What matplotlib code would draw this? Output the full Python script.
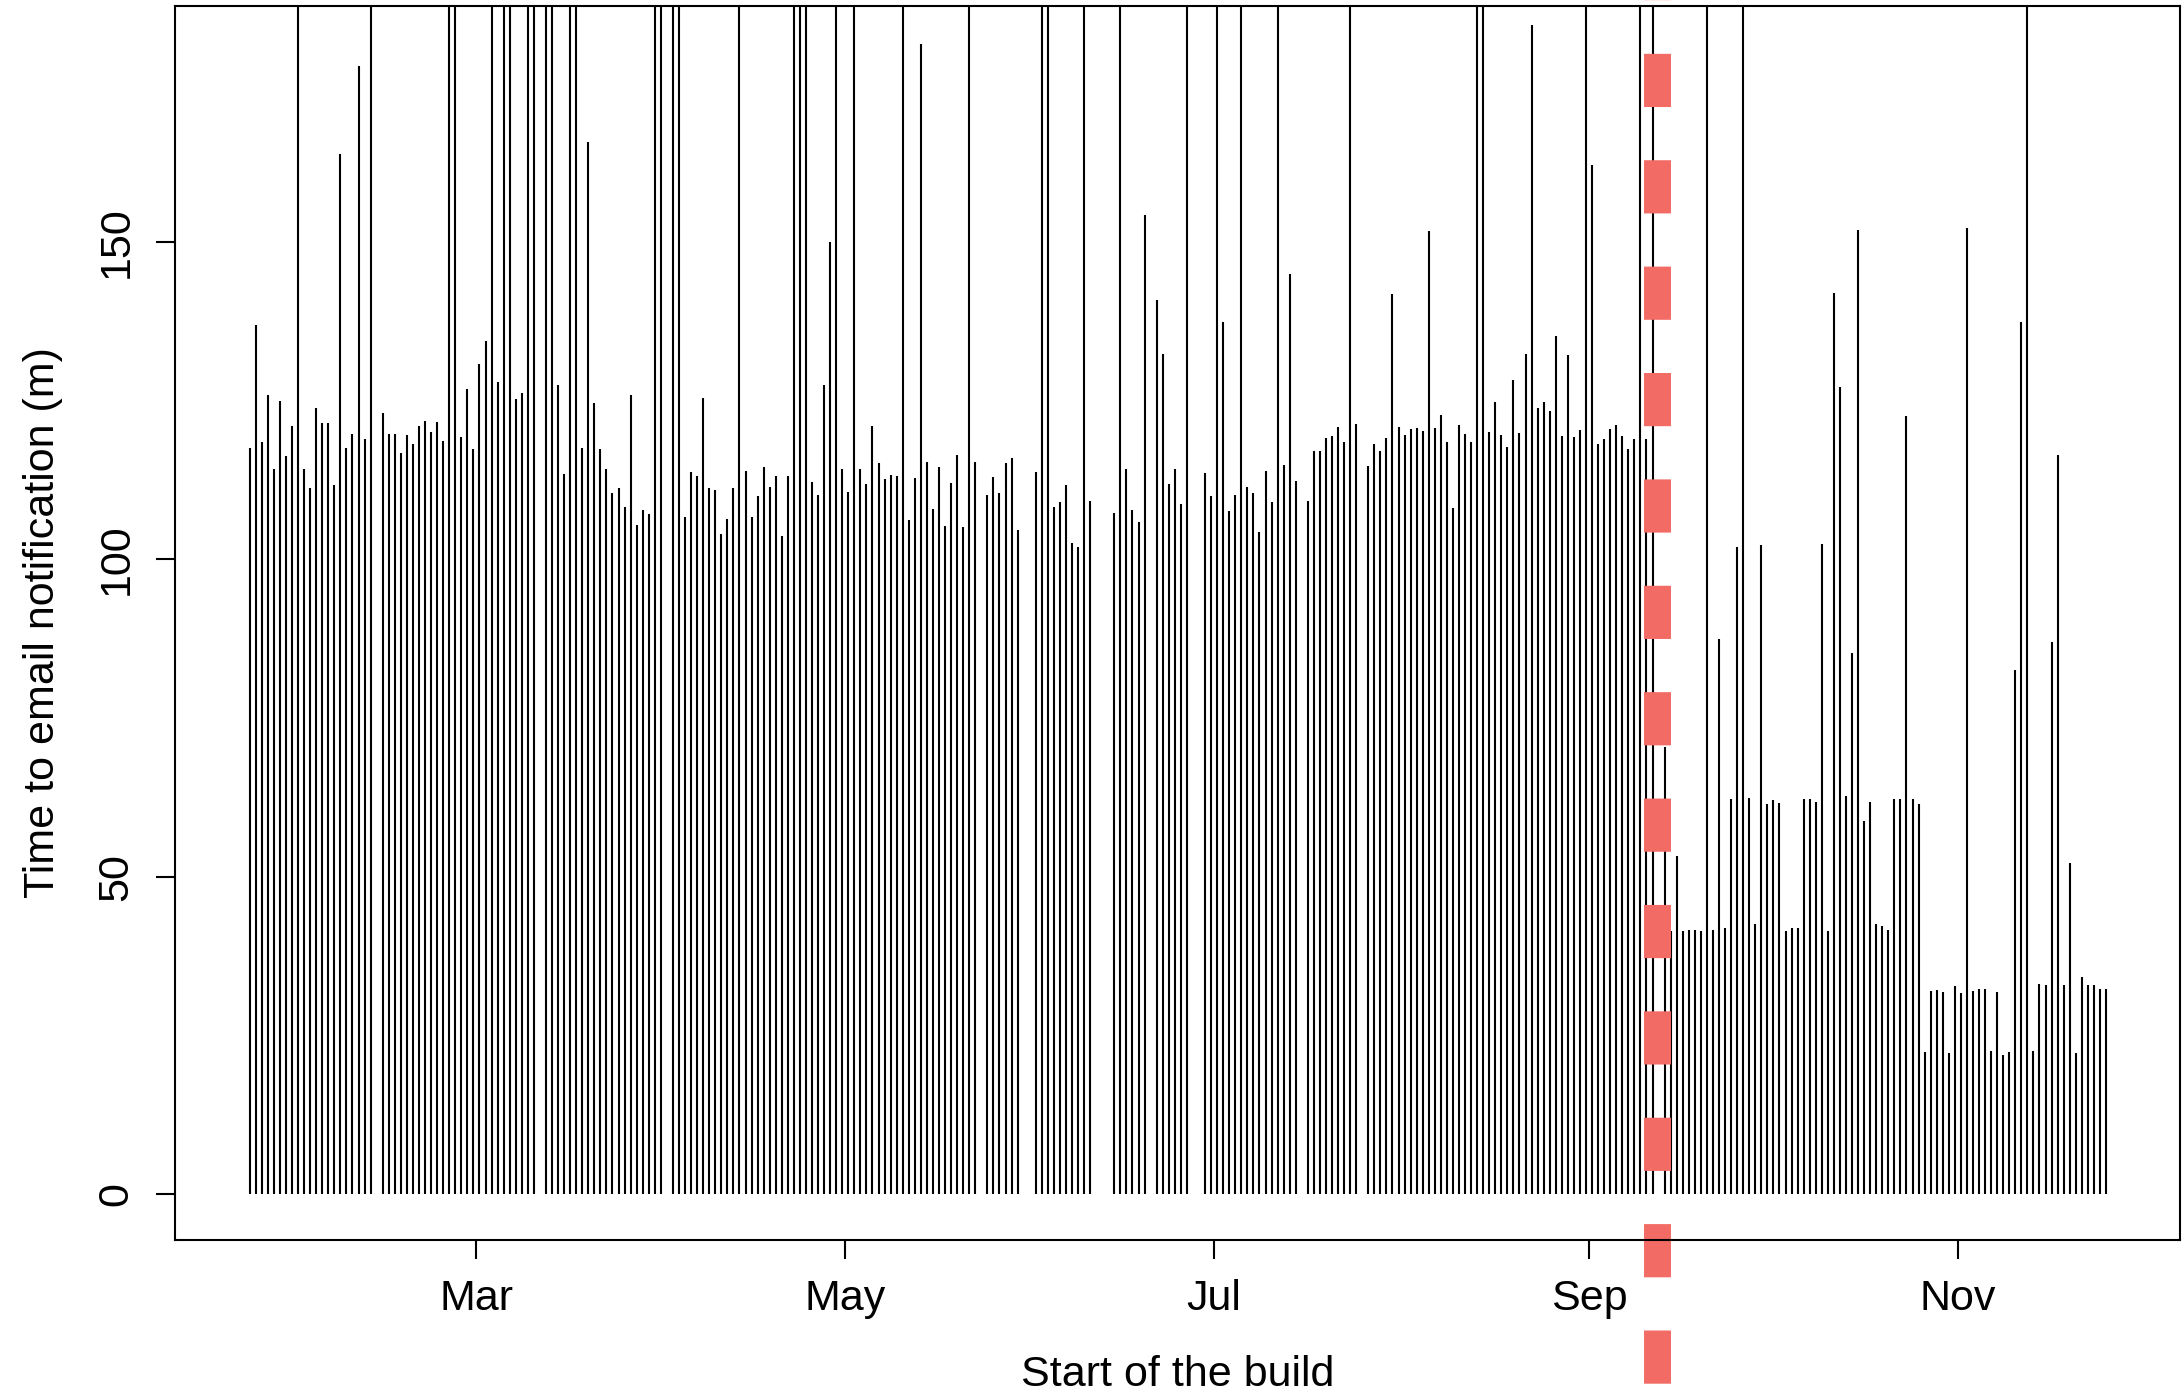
import numpy as np
import pandas as pd
import matplotlib
matplotlib.use("Agg")
import matplotlib.pyplot as plt
import matplotlib.dates as mdates
import matplotlib.transforms as mtransforms

C = 200     # build ran past the top of the plot (clipped)
N = np.nan  # no build that day

first_build = "2021-01-22 12:00"
change_date = "2021-09-12 04:00"

# minutes from build start to email, one value per day
minutes_before = [
    117.5, 136.9, 118.4, 125.8, 114.2, 124.9, 116.3, 121.0, C, 114.2,
    111.2, 123.8, 121.4, 121.4, 111.7, 163.9, 117.6, 119.7, 177.7, 119.0,
    C, N, 123.0, 119.7, 119.7, 116.8, 119.6, 118.2, 121.0, 121.8,
    120.0, 121.6, 118.6, C, C, 119.3, 126.8, 117.3, 130.7, 134.4,
    C, 127.9, C, C, 125.2, 126.2, C, C, N, C,
    C, 127.4, 113.5, C, C, 117.5, 165.7, 124.6, 117.3, 114.3,
    110.4, 111.2, 108.2, 125.8, 105.4, 107.7, 107.1, C, C, N,
    C, C, 106.7, 113.7, 113.2, 125.4, 111.3, 110.9, 104.0, 106.3,
    111.2, C, 113.9, 106.7, 110.0, 114.6, 111.4, 113.2, 103.6, 113.2,
    C, C, C, 112.1, 110.2, 127.4, 150.0, C, 114.3, 110.6,
    C, 114.2, 111.9, 121.0, 115.2, 112.7, 113.3, 113.1, C, 106.2,
    112.8, 181.2, 115.4, 108.0, 114.6, 105.3, 112.0, 116.4, 105.1, C,
    115.4, N, 110.2, 113.0, 110.4, 115.2, 116.0, 104.6, N, N,
    113.7, C, C, 108.2, 109.0, 111.7, 102.5, 101.9, C, 109.2,
    N, N, N, 107.3, C, 114.2, 107.7, 105.9, 154.2, N,
    140.9, 132.3, 111.8, 114.3, 108.7, C, N, N, 113.6, 109.9,
    C, 137.4, 107.6, 110.2, C, 111.4, 110.4, 104.3, 113.9, 109.0,
    C, 114.8, 144.9, 112.3, N, 109.2, 117.1, 117.1, 119.1, 119.4,
    120.9, 118.5, C, 121.3, N, 114.7, 118.1, 117.0, 119.1, 141.8,
    120.8, 119.5, 120.5, 120.7, 120.2, 151.7, 120.7, 122.8, 118.4, 108.1,
    121.1, 119.7, 118.4, C, C, 120.1, 124.7, 119.6, 117.7, 128.3,
    119.9, 132.3, 184.2, 123.8, 124.8, 123.4, 135.2, 119.4, 132.2, 119.2,
    120.3, C, 162.1, 118.2, 118.9, 120.5, 121.2, 119.4, 117.4, 118.9,
    C, 119.0, C,
]
minutes_after = [
    N, 70.5, 41.5, 53.3, 41.4, 41.7, 41.7, 41.4, C, 41.7,
    87.4, 41.9, 62.2, 101.9, C, 62.4, 42.5, 102.2, 61.4, 62.1,
    61.7, 41.4, 42.0, 42.0, 62.3, 62.3, 61.8, 102.4, 41.4, 141.9,
    127.2, 62.7, 85.2, 151.9, 58.8, 61.8, 42.5, 42.3, 41.7, 62.3,
    62.3, 122.5, 62.2, 61.5, 22.4, 32.1, 32.2, 31.8, 22.2, 32.8,
    31.7, 152.2, 32.1, 32.3, 32.3, 22.6, 31.9, 22.0, 22.4, 82.5,
    137.3, C, 22.6, 33.2, 32.9, 87.0, 116.5, 33.0, 52.1, 22.3,
    34.2, 32.9, 33.0, 32.3, 32.4,
]

month_ticks = ["2021-03-01", "2021-05-01", "2021-07-01", "2021-09-01", "2021-11-01"]
month_labels = ["Mar", "May", "Jul", "Sep", "Nov"]
y_ticks = [0, 50, 100, 150]

minutes = np.array(minutes_before + minutes_after, dtype=float)
days = pd.date_range(first_build, periods=len(minutes), freq="D")
xd = mdates.date2num(days.to_pydatetime())

plt.rcParams["font.family"] = ["Liberation Sans", "DejaVu Sans"]
plt.rcParams["lines.scale_dashes"] = False

fig = plt.figure(figsize=(10.91, 6.98), dpi=200)
ax = fig.add_axes([0.0804, 0.1117, 0.9188, 0.8843])

ok = ~np.isnan(minutes)
ax.vlines(xd[ok], 0, minutes[ok], color="black", lw=0.75)

# red dashed marker for the change, running off the plot area
cx = mdates.date2num(pd.Timestamp(change_date).to_pydatetime())
trans = mtransforms.blended_transform_factory(ax.transData, fig.transFigure)
ax.plot([cx, cx], [1, 0], transform=trans, color="#F26B64", lw=9.7,
         clip_on=False, dash_capstyle="butt", linestyle=(19.1, (19.15, 19.15)))

pad = 0.04 * (xd[-1] - xd[0])
ax.set_xlim(xd[0] - pad, xd[-1] + pad)
ax.set_ylim(-7.2, 187.2)

ax.set_xticks([mdates.date2num(pd.Timestamp(d).to_pydatetime()) for d in month_ticks])
ax.set_xticklabels(month_labels)
ax.set_yticks(y_ticks)
ax.tick_params(length=7, width=0.75, labelsize=15.5, pad=7)
for t in ax.get_yticklabels():
    t.set_rotation(90)
    t.set_va("center")
for s in ax.spines.values():
    s.set_linewidth(0.75)

ax.set_xlabel("Start of the build", fontsize=15.5, labelpad=13)
ax.set_ylabel("Time to email notification (m)", fontsize=15.5, labelpad=12)

fig.savefig("out.png", dpi=200)
